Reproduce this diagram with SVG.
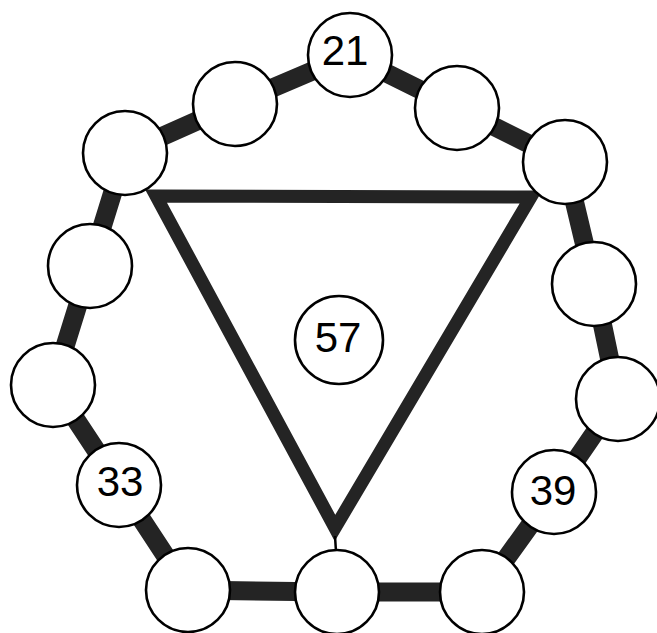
<svg xmlns="http://www.w3.org/2000/svg" width="657" height="633" viewBox="0 0 657 633">
<style>
.bar{stroke:#242424;stroke-width:19;stroke-linecap:butt;fill:none}
.tri{stroke:#242424;stroke-width:13;fill:none;stroke-linejoin:miter;stroke-miterlimit:10}
.node circle{fill:#fff;stroke:#000;stroke-width:2.6}
.node text{font-family:"Liberation Sans",Arial,sans-serif;font-size:42px;fill:#000;text-anchor:middle}
</style>
<rect width="657" height="633" fill="#fff"/>
<g id="connectors">
<path class="bar" d="M350,55 L457,108 L565,162 L594,284 L618,399 L554,492 L482,592 L337,592 L188,590 L119,485 L53,385 L90,266 L125,153 L235,104 Z"/>
<path class="tri" d="M156,196 L531,197 L335,528 Z"/>
<line x1="335" y1="536" x2="336" y2="552" stroke="#000" stroke-width="2.5"/>
</g>
<g id="n21" class="node"><circle cx="350" cy="55" r="42"/><text x="345" y="65">21</text></g>
<g id="n2" class="node"><circle cx="235" cy="104" r="42"/></g>
<g id="n3" class="node"><circle cx="457" cy="108" r="42"/></g>
<g id="n4" class="node"><circle cx="125" cy="153" r="42"/></g>
<g id="n5" class="node"><circle cx="565" cy="162" r="42"/></g>
<g id="n6" class="node"><circle cx="90" cy="266" r="42"/></g>
<g id="n7" class="node"><circle cx="594" cy="284" r="42"/></g>
<g id="n8" class="node"><circle cx="53" cy="385" r="42"/></g>
<g id="n9" class="node"><circle cx="618" cy="399" r="42"/></g>
<g id="n33" class="node"><circle cx="119" cy="485" r="42"/><text x="120" y="496">33</text></g>
<g id="n39" class="node"><circle cx="554" cy="492" r="42"/><text x="553" y="505">39</text></g>
<g id="n12" class="node"><circle cx="188" cy="590" r="42"/></g>
<g id="n13" class="node"><circle cx="337" cy="592" r="42"/></g>
<g id="n14" class="node"><circle cx="482" cy="592" r="42"/></g>
<g id="n57" class="node"><circle cx="339" cy="340" r="44"/><text x="338" y="352">57</text></g>
</svg>
